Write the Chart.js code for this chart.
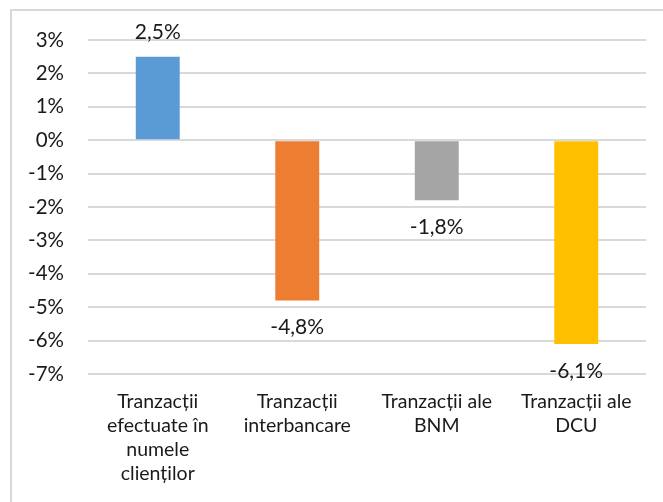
<!DOCTYPE html>
<html>
<head>
<meta charset="utf-8">
<script src="https://cdn.jsdelivr.net/npm/chart.js@4/dist/chart.umd.min.js"></script>
<style>
  html, body { margin: 0; padding: 0; background: #fff; }
  #wrap { position: relative; width: 663px; height: 502px; overflow: hidden; }
  #frame { position: absolute; left: 10px; top: 9px; width: 700px; height: 600px; border: 2px solid #d9d9d9; box-sizing: border-box; }
  canvas { position: absolute; left: 0; top: 0; }
</style>
</head>
<body>
<div id="wrap">
  <div id="frame"></div>
  <canvas id="c" width="663" height="502"></canvas>
</div>
<script>
const categories = [
  ["Tranzacții", "efectuate în", "numele", "clienților"],
  ["Tranzacții", "interbancare"],
  ["Tranzacții ale", "BNM"],
  ["Tranzacții ale", "DCU"]
];
const values = [2.5, -4.8, -1.8, -6.1];
const barColors = ["#5B9BD5", "#ED7D31", "#A5A5A5", "#FFC000"];
const yMin = -7, yMax = 3, yStep = 1;

const FONT = "Lato, 'Open Sans', sans-serif";
const TEXT = "#1a1a1a";

const labelPlugin = {
  id: "barLabels",
  afterDatasetsDraw(chart) {
    const ctx = chart.ctx;
    const meta = chart.getDatasetMeta(0);
    ctx.save();
    ctx.font = "21px " + FONT;
    ctx.fillStyle = TEXT;
    ctx.textAlign = "center";
    ctx.textBaseline = "middle";
    meta.data.forEach((el, i) => {
      const v = values[i];
      const txt = v.toFixed(1).replace(".", ",") + "%";
      const y = v >= 0 ? el.y - 24 : el.y + 27;
      ctx.fillText(txt, el.x, y);
    });
    ctx.restore();
  }
};

new Chart(document.getElementById("c"), {
  type: "bar",
  data: {
    labels: categories,
    datasets: [{
      data: values,
      backgroundColor: barColors,
      borderWidth: 0,
      categoryPercentage: 1,
      barPercentage: 0.315
    }]
  },
  options: {
    responsive: false,
    devicePixelRatio: 1,
    animation: false,
    layout: { padding: { left: 0, top: 40, right: 17, bottom: 0 } },
    plugins: { legend: { display: false }, tooltip: { enabled: false } },
    scales: {
      x: {
        grid: { display: false, drawTicks: false },
        border: { display: false },
        ticks: {
          color: TEXT,
          font: { family: FONT, size: 19.5, lineHeight: 1.22 },
          padding: 16,
          maxRotation: 0,
          autoSkip: false
        },
        afterFit(scale) { scale.height = 128; }
      },
      y: {
        min: yMin,
        max: yMax,
        grid: { color: "#d9d9d9", lineWidth: 2, drawTicks: false },
        border: { display: false },
        ticks: {
          stepSize: yStep,
          color: TEXT,
          font: { family: FONT, size: 20.5 },
          padding: 24,
          callback: v => v + "%"
        },
        afterFit(scale) { scale.width = 88; }
      }
    }
  },
  plugins: [labelPlugin]
});
</script>
</body>
</html>
